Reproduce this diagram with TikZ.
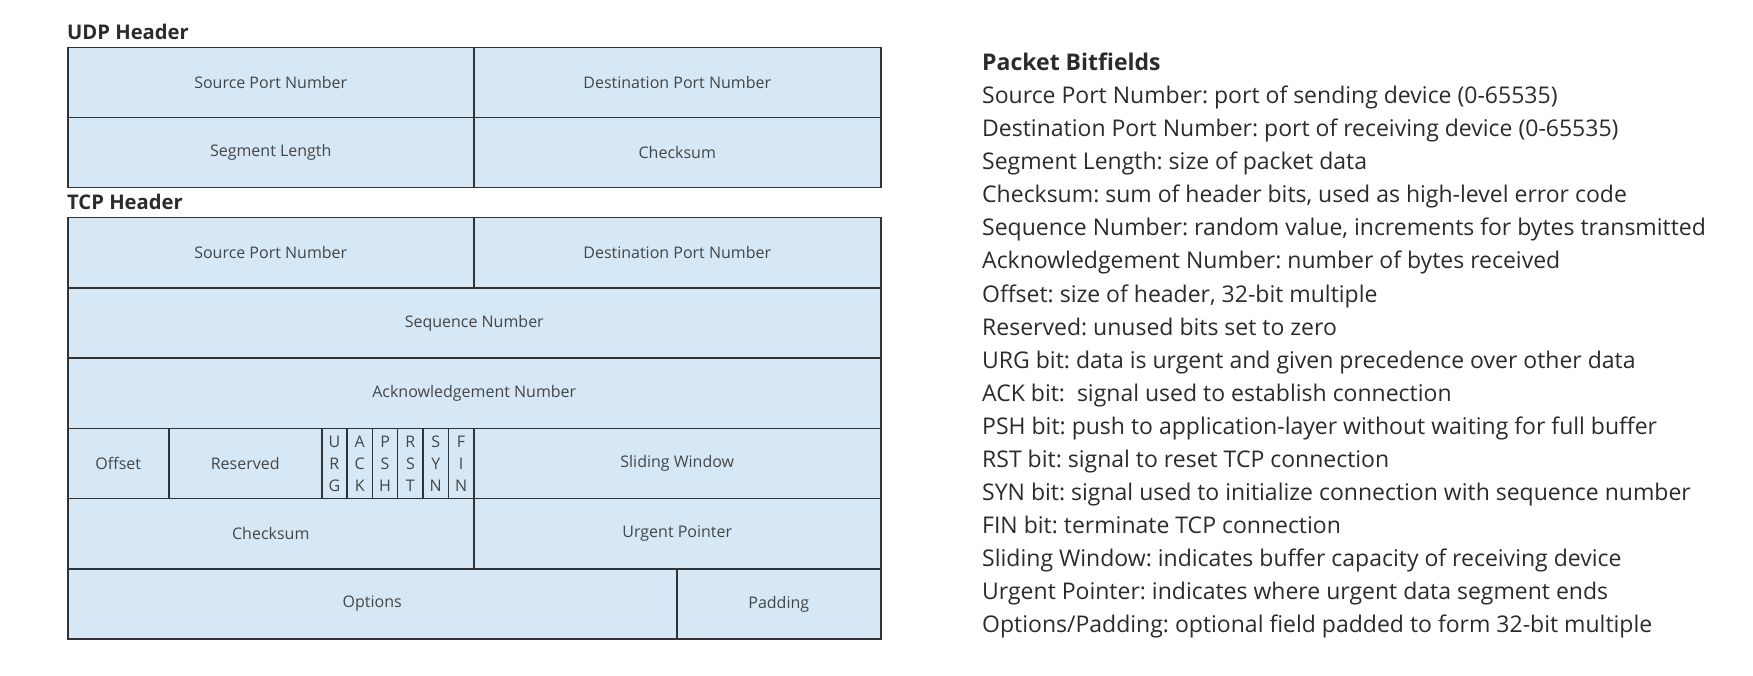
\documentclass[tikz,border=0pt]{standalone}
\usepackage{fontspec}
\setmainfont{Open Sans}
\frenchspacing
\usetikzlibrary{positioning}
\definecolor{cellblue}{HTML}{D6E8F6}
\definecolor{cellline}{HTML}{333333}
\definecolor{celltext}{HTML}{454545}
\definecolor{inktext}{HTML}{2B2B2B}

\begin{document}
\begin{tikzpicture}[x=1pt,y=-1pt,
    field/.style={draw=cellline, fill=cellblue, line width=1.5pt, anchor=north west,
                  inner sep=0pt, text=celltext, align=center,
                  font=\fontsize{16}{22}\selectfont},
    headline/.style={anchor=base west, inner sep=0pt, text=inktext,
                  font=\bfseries\fontsize{20.2}{24}\selectfont},
    legendline/.style={anchor=base west, inner sep=0pt, text=inktext,
                  font=\fontsize{23}{33}\selectfont}]
    \useasboundingbox (0,0) rectangle (1753,676);

    % UDP header
    \node[headline] (udptitle) at (67,40) {UDP Header};
    \node[field, minimum width=406pt, minimum height=70pt] (udpsrc) at (67,47) {Source Port Number};
    \node[field, minimum width=407pt, minimum height=70pt] (udpdst) at (473,47) {Destination Port Number};
    \node[field, minimum width=406pt, minimum height=70pt] (udplen) at (67,117) {Segment Length};
    \node[field, minimum width=407pt, minimum height=70pt] (udpsum) at (473,117) {Checksum};

    % TCP header
    \node[headline] (tcptitle) at (67,210) {TCP Header};
    \node[field, minimum width=406pt, minimum height=70.2pt] (tcpsrc) at (67,217) {Source Port Number};
    \node[field, minimum width=407pt, minimum height=70.2pt] (tcpdst) at (473,217) {Destination Port Number};
    \node[field, minimum width=813pt, minimum height=70.2pt] (tcpseq) at (67,287.2) {Sequence Number};
    \node[field, minimum width=813pt, minimum height=70.2pt] (tcpack) at (67,357.4) {Acknowledgement Number};
    \node[field, minimum width=101pt, minimum height=70.2pt] (tcpoff) at (67,427.6) {Offset};
    \node[field, minimum width=153pt, minimum height=70.2pt] (tcpres) at (168,427.6) {Reserved};
    \foreach \flag [count=\i from 0] in {{U\\R\\G},{A\\C\\K},{P\\S\\H},{R\\S\\T},{S\\Y\\N},{F\\I\\N}} {
        \node[field, minimum width=25.33pt, minimum height=70.2pt] (flag\i) at (321+25.33*\i,427.6) {\flag};
    }
    \node[field, minimum width=407pt, minimum height=70.2pt] (tcpwin) at (473,427.6) {Sliding Window};
    \node[field, minimum width=406pt, minimum height=70.2pt] (tcpsum) at (67,497.8) {Checksum};
    \node[field, minimum width=407pt, minimum height=70.2pt] (tcpurg) at (473,497.8) {Urgent Pointer};
    \node[field, minimum width=609pt, minimum height=70.2pt] (tcpopt) at (67,568) {Options};
    \node[field, minimum width=204pt, minimum height=70.2pt] (tcppad) at (676,568) {Padding};

    % Legend
    \node[legendline, font=\bfseries\fontsize{23}{33}\selectfont] (legendtitle) at (982,71) {Packet Bitfields};
    \foreach \txt [count=\i] in {
        {Source Port Number: port of sending device (0-65535)},
        {Destination Port Number: port of receiving device (0-65535)},
        {Segment Length: size of packet data},
        {Checksum: sum of header bits, used as high-level error code},
        {Sequence Number: random value, increments for bytes transmitted},
        {Acknowledgement Number: number of bytes received},
        {Offset: size of header, 32-bit multiple},
        {Reserved: unused bits set to zero},
        {URG bit: data is urgent and given precedence over other data},
        {ACK bit: \ signal used to establish connection},
        {PSH bit: push to application-layer without waiting for full buffer},
        {RST bit: signal to reset TCP connection},
        {SYN bit: signal used to initialize connection with sequence number},
        {FIN bit: terminate TCP connection},
        {Sliding Window: indicates buffer capacity of receiving device},
        {Urgent Pointer: indicates where urgent data segment ends},
        {Options/Padding: optional field padded to form 32-bit multiple}} {
        \node[legendline] (legend\i) at (982,71+33*\i) {\txt};
    }
\end{tikzpicture}
\end{document}
